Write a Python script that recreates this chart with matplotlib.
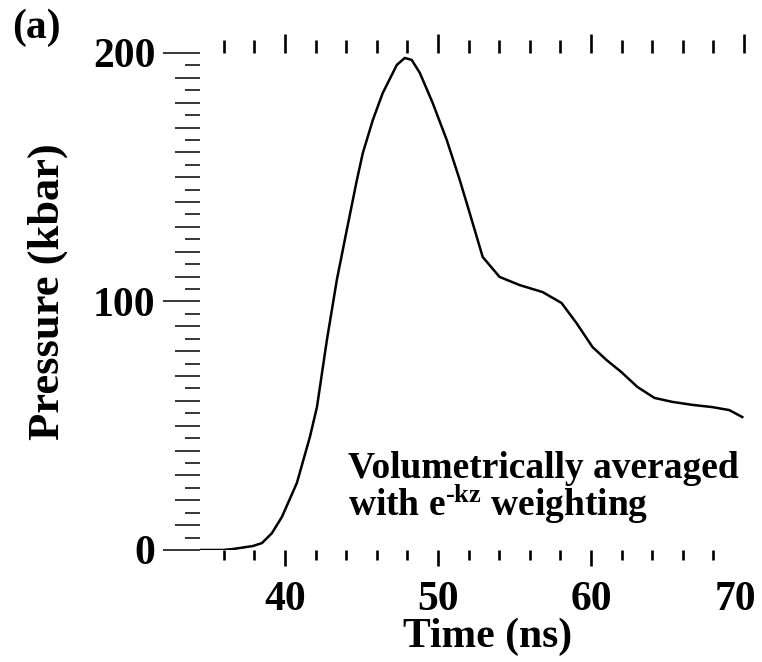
import matplotlib.pyplot as plt
import matplotlib.transforms as mtransforms
import numpy as np

# values (volumetrically averaged pressure)
time_ns = [34.46, 35.96, 36.61, 37.91, 38.50, 39.15, 39.80, 40.78, 41.63, 42.09,
           42.74, 43.39, 44.04, 44.70, 45.09, 45.74, 46.39, 47.31, 47.83, 48.28,
           48.81, 49.65, 50.57, 51.42, 52.07, 52.92, 54.02, 55.33, 56.83, 58.07,
           59.05, 60.09, 61.00, 61.98, 63.03, 64.14, 65.31, 66.61, 67.92, 69.03,
           69.88]
pressure_kbar = [0.0, 0.0, 0.4, 1.6, 2.8, 6.8, 13.3, 27.0, 45.5, 57.5,
                 84.5, 108.7, 128.8, 148.9, 159.8, 173.0, 183.9, 195.2, 198.0, 197.2,
                 192.0, 179.9, 165.0, 148.9, 135.6, 117.9, 109.9, 106.6, 103.8, 99.4,
                 91.3, 81.7, 76.5, 71.6, 65.6, 61.2, 59.6, 58.4, 57.5, 56.3,
                 53.5]

x_major = [40, 50, 60, 70]
x_minor = np.arange(36, 70, 2)
y_major = [0, 100, 200]
y_minor_long = np.arange(10, 200, 10)
y_minor_short = np.arange(5, 200, 10)

plt.rcParams['font.family'] = 'Liberation Serif'
plt.rcParams['font.weight'] = 'bold'
plt.rcParams['font.size'] = 30
plt.rcParams['mathtext.fontset'] = 'custom'
plt.rcParams['mathtext.rm'] = 'Liberation Serif:bold'
plt.rcParams['mathtext.bf'] = 'Liberation Serif:bold'
plt.rcParams['mathtext.it'] = 'Liberation Serif:bold'

fig = plt.figure(figsize=(7.62, 6.62), dpi=100)
ax = fig.add_axes([0.2625, 0.1692, 0.714, 0.7508])
ax.plot(time_ns, pressure_kbar, color='black', lw=1.8)
ax.set_xlim(34.45, 70.0)
ax.set_ylim(0, 200)
for s in ax.spines.values():
    s.set_visible(False)

# bottom ticks
ax.set_xticks(x_major)
ax.set_xticks(x_minor, minor=True)
ax.tick_params(axis='x', which='major', direction='out', length=11.5, width=1.9, pad=11)
ax.tick_params(axis='x', which='minor', direction='out', length=7.2, width=1.9)
ax.xaxis.get_major_ticks()[-1].tick1line.set_visible(False)
# last label pulled in so it stays on the page
lab70 = ax.get_xticklabels()[-1]
lab70.set_transform(lab70.get_transform() +
                    mtransforms.ScaledTranslation(-9/100, 0, fig.dpi_scale_trans))

# top ticks, no labels
top = ax.secondary_xaxis('top')
top.set_xticks(x_major, labels=[])
top.set_xticks(x_minor, minor=True)
top.tick_params(which='major', direction='out', length=13.7, width=1.9)
top.tick_params(which='minor', direction='out', length=9.4, width=1.9)
for s in top.spines.values():
    s.set_visible(False)

# left ticks
ax.set_yticks(y_major)
ax.set_yticks(y_minor_long, minor=True)
ax.tick_params(axis='y', which='major', direction='out', length=27, width=1.1, pad=5)
ax.tick_params(axis='y', which='minor', direction='out', length=18, width=1.1)
left = ax.secondary_yaxis('left')
left.set_yticks(y_minor_short, labels=[])
left.tick_params(which='major', direction='out', length=11, width=1.1)
for s in left.spines.values():
    s.set_visible(False)

fig.text(488/762, 15/662, 'Time (ns)', ha='center', va='baseline')
fig.text(48/762, 1 - 292/662, 'Pressure (kbar)', rotation=90, ha='center', va='center',
         fontsize=32)
fig.text(12/762, 1 - 38/662, '(a)', ha='left', va='baseline')

ax.text(0.272, 0.068, 'Volumetrically averaged\nwith e$^{\\text{-kz}}$ weighting',
        transform=ax.transAxes, fontsize=27, ha='left', va='baseline', linespacing=0.9)

plt.savefig('out.png', dpi=100)
